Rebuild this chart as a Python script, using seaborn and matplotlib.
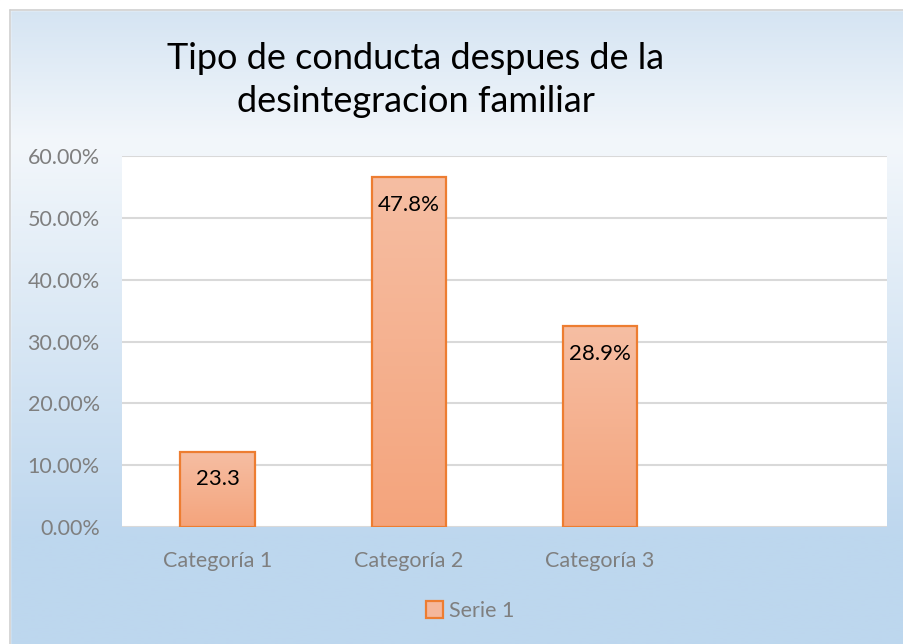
import numpy as np
import pandas as pd
import matplotlib
matplotlib.use("Agg")
import matplotlib.pyplot as plt
import matplotlib.patches as mpatches
from matplotlib.colors import LinearSegmentedColormap
from matplotlib.ticker import FuncFormatter
import seaborn as sns

# ---------------------------------- DATA ----------------------------------
categories = ["Categoría 1", "Categoría 2", "Categoría 3"]
values = [12.2, 56.6, 32.5]            # bar heights in percent
bar_labels = ["23.3", "47.8%", "28.9%"]  # labels as printed on the bars
series_name = "Serie 1"
title = "Tipo de conducta despues de la\ndesintegracion familiar"

df = pd.DataFrame({"cat": categories, "val": values})

# ---------------------------------- STYLE ----------------------------------
sns.set_style("white")
plt.rcParams["font.family"] = ["Lato", "DejaVu Sans"]

fig = plt.figure(figsize=(9.04, 6.44), dpi=100)

# background gradient (whole chart area)
bg = fig.add_axes([0, 0, 1, 1], zorder=-10)
bg_cmap = LinearSegmentedColormap.from_list(
    "bg", [(0.0, "#d3e3f2"), (0.22, "#f3f7fb"), (0.83, "#bed7ee"), (1.0, "#bdd7ee")])
grad = np.linspace(0, 1, 256).reshape(-1, 1)
bg.imshow(grad, aspect="auto", cmap=bg_cmap, extent=[0, 1, 0, 1], origin="upper")
bg.set_xlim(0, 1)
bg.set_ylim(0, 1)
bg.axis("off")
# white margin + thin frame like the spreadsheet chart object
x0, y0 = 10 / 904, 1 - 10 / 644
bg.add_patch(mpatches.Rectangle((0, 0), x0, 1, color="white", zorder=2))
bg.add_patch(mpatches.Rectangle((0, y0), 1, 1 - y0, color="white", zorder=2))
bg.plot([x0, x0], [0, y0], color="#d0d0d0", lw=1.2, zorder=3)
bg.plot([x0, 1], [y0, y0], color="#d0d0d0", lw=1.2, zorder=3)

ax = fig.add_axes([122 / 904, 1 - 527 / 644, (887 - 122) / 904, (527 - 156) / 644])
ax.set_facecolor("white")

sns.barplot(data=df, x="cat", y="val", ax=ax, width=0.39,
            color="#f5b090", edgecolor="#ed7d31", linewidth=1.6, zorder=3)

# gradient fill on the bars (darker at the bottom, lighter at the top)
bar_cmap = LinearSegmentedColormap.from_list("bar", ["#f4a47c", "#f6bea3"])
for p in ax.patches:
    bx, by = p.get_x(), p.get_y()
    bw, bh = p.get_width(), p.get_height()
    im = ax.imshow(grad, aspect="auto", cmap=bar_cmap,
                   extent=[bx, bx + bw, by, by + bh], origin="lower", zorder=2.5)
    im.set_clip_path(p)
    p.set_facecolor("none")

for p, lab in zip(ax.patches, bar_labels):
    ax.annotate(lab, (p.get_x() + p.get_width() / 2, p.get_height()),
                xytext=(0, -20), textcoords="offset points",
                ha="center", va="center", fontsize=16, color="black", zorder=5)

ax.set_xlim(-0.5, 3.5)
ax.set_ylim(0, 60)
ax.set_yticks(np.arange(0, 61, 10))
ax.yaxis.set_major_formatter(FuncFormatter(lambda v, _: f"{v:.2f}%"))
ax.grid(axis="y", color="#d9d9d9", lw=1.5, zorder=0)
ax.set_axisbelow(True)
for s in ax.spines.values():
    s.set_visible(False)
ax.tick_params(axis="y", length=0, pad=16, labelsize=15.5, labelcolor="#7f7f7f")
ax.tick_params(axis="x", length=0, pad=17, labelsize=15.5, labelcolor="#7f7f7f")
ax.set_xlabel("")
ax.set_ylabel("")

fig.text(0.46, 0.876, title, ha="center", va="center", fontsize=26,
         color="black", linespacing=1.35)

handle = mpatches.Patch(facecolor="#f5b79b", edgecolor="#ed7d31", linewidth=1.6,
                        label=series_name)
fig.legend(handles=[handle], loc="center", bbox_to_anchor=(0.52, 0.051),
           frameon=False, fontsize=15.5, labelcolor="#7f7f7f",
           handlelength=0.8, handleheight=0.8, handletextpad=0.3)

fig.savefig("out.png", dpi=100)
